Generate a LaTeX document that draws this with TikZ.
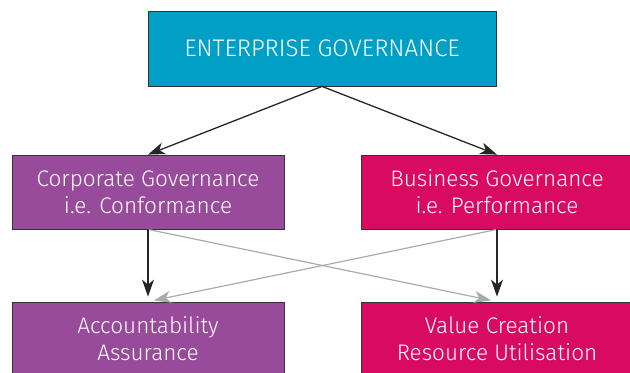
\documentclass[tikz,border=0pt]{standalone}
\usepackage{fontspec}
\setmainfont{Fira Sans}[UprightFont=* Light]
\usetikzlibrary{positioning,arrows.meta}
\definecolor{govblue}{RGB}{0,160,198}
\definecolor{confpurple}{RGB}{153,75,155}
\definecolor{perfred}{RGB}{216,10,98}
\definecolor{crossgray}{RGB}{170,170,170}
\tikzset{
  govbox/.style={draw=black!80,line width=0.8bp,text=white,align=center,
    font=\fontsize{22.5bp}{27bp}\selectfont,inner sep=0pt},
  confbox/.style={govbox,fill=confpurple,minimum width=272bp,minimum height=74bp},
  perfbox/.style={govbox,fill=perfred,minimum width=272bp,minimum height=74bp},
  link/.style={-{Stealth[length=17bp,width=12bp,inset=5bp]},line width=1.3bp,black!85},
  cross/.style={-{Stealth[length=17bp,width=12bp,inset=5bp]},line width=1.2bp,crossgray}
}
\begin{document}
\begin{tikzpicture}[x=1bp,y=-1bp,on grid]
   \useasboundingbox (0,0) rectangle (630,372);
   \clip (0,0) rectangle (630,372);
   \node[govbox,fill=govblue,minimum width=348bp,minimum height=75bp,
     font=\fontsize{24bp}{28bp}\selectfont] (eg) at (322,48.5) {ENTERPRISE GOVERNANCE};
   \node[confbox] (cg) [below left=143.5bp and 174bp of eg] {Corporate Governance\\i.e. Conformance};
   \node[perfbox] (bg) [below right=143.5bp and 175bp of eg] {Business Governance\\i.e. Performance};
   \node[confbox] (ac) [below=147bp of cg] {Accountability\\Assurance};
   \node[perfbox] (vc) [below=147bp of bg] {Value Creation\\Resource Utilisation};
    \path[cross,shorten >=6bp]
    (cg.south) edge (vc.north)
    (bg.south) edge (ac.north);
    \path[link]
    (eg.south) edge (cg.north)
               edge (bg.north)
    (cg.south) edge [shorten >=5bp] (ac.north)
    (bg.south) edge [shorten >=5bp] (vc.north);
\end{tikzpicture}
\end{document}
